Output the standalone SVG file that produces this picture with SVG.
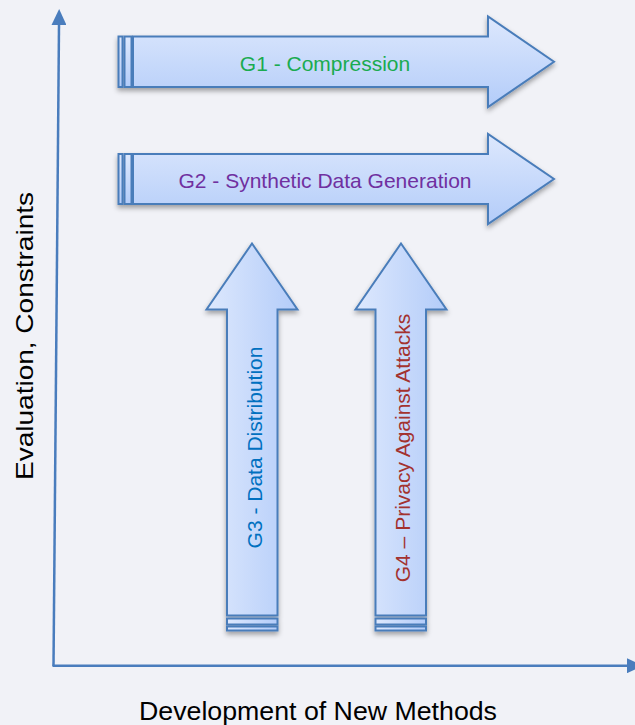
<svg xmlns="http://www.w3.org/2000/svg" width="635" height="725" viewBox="0 0 635 725">
  <defs>
    <linearGradient id="fillH" x1="0" y1="0" x2="0" y2="1">
      <stop offset="0" stop-color="#dde8fd"/>
      <stop offset="1" stop-color="#b3ccf9"/>
    </linearGradient>
    <linearGradient id="fillV" x1="0" y1="0" x2="1" y2="0">
      <stop offset="0" stop-color="#dde8fd"/>
      <stop offset="1" stop-color="#b3ccf9"/>
    </linearGradient>
    <filter id="shadow" x="-10%" y="-10%" width="120%" height="130%">
      <feDropShadow dx="0" dy="3" stdDeviation="2.5" flood-color="#000" flood-opacity="0.35"/>
    </filter>
    <marker id="axisHead" viewBox="0 0 16 15" markerWidth="16" markerHeight="15" refX="0" refY="7.5" orient="auto" markerUnits="userSpaceOnUse">
      <path d="M0,0 L16,7.5 L0,15 Z" fill="#4a7dbd"/>
    </marker>
  </defs>
  <style>
    .shape { stroke: #4a7dba; stroke-width: 2; stroke-linejoin: miter; }
    .h { fill: url(#fillH); }
    .v { fill: url(#fillV); }
    .label { font-family: "Liberation Sans", Arial, sans-serif; font-size: 21px; text-anchor: middle; }
    .axis { fill: none; stroke: #4a7dbd; stroke-width: 2.5; }
    .axisLabel { font-family: "Liberation Sans", Arial, sans-serif; fill: #000; text-anchor: middle; }
  </style>

  <rect width="635" height="725" fill="#f1f2f7"/>

  <!-- axes -->
  <g id="connectors">
    <path class="axis" d="M53.5,666 L59,25" marker-end="url(#axisHead)"/>
    <path class="axis" d="M52.5,665.7 H627" marker-end="url(#axisHead)"/>
  </g>

  <!-- striped block arrows -->
  <g id="g1" filter="url(#shadow)">
    <rect class="shape h" x="118.5" y="36.5" width="4" height="50.5"/>
    <rect class="shape h" x="124.5" y="36.5" width="7" height="50.5"/>
    <path class="shape h" d="M133,36.5 H488 V16.5 L554,61.7 L488,107 V87 H133 Z"/>
  </g>
  <g id="g1-text">
    <text class="label" x="325" y="71" fill="#1aab50">G1 - Compression</text>
  </g>

  <g id="g2" filter="url(#shadow)">
    <rect class="shape h" x="118.5" y="154" width="4" height="50"/>
    <rect class="shape h" x="124.5" y="154" width="7" height="50"/>
    <path class="shape h" d="M133,154 H488 V134 L554,179 L488,224 V204 H133 Z"/>
  </g>
  <g id="g2-text">
    <text class="label" x="325" y="188" fill="#7030a0">G2 - Synthetic Data Generation</text>
  </g>

  <g id="g3" filter="url(#shadow)">
    <path class="shape v" d="M252,243.5 L297.5,309.5 H277.5 V615.5 H227 V309.5 H206.5 Z"/>
    <rect class="shape v" x="227" y="618.5" width="50.5" height="6"/>
    <rect class="shape v" x="227" y="626.5" width="50.5" height="4"/>
  </g>
  <g id="g3-text">
    <text class="label" transform="translate(262,447.5) rotate(-90)" fill="#0070c0">G3 - Data Distribution</text>
  </g>

  <g id="g4" filter="url(#shadow)">
    <path class="shape v" d="M401,243.5 L446.5,309.5 H426 V615.5 H375.5 V309.5 H355.5 Z"/>
    <rect class="shape v" x="375.5" y="618.5" width="50.5" height="6"/>
    <rect class="shape v" x="375.5" y="626.5" width="50.5" height="4"/>
  </g>
  <g id="g4-text">
    <text class="label" transform="translate(410,448) rotate(-90)" fill="#a3322f">G4 – Privacy Against Attacks</text>
  </g>

  <!-- axis titles -->
  <g id="y-title">
    <text class="axisLabel" font-size="24" textLength="288" lengthAdjust="spacingAndGlyphs" transform="translate(33,336) rotate(-90)">Evaluation, Constraints</text>
  </g>
  <g id="x-title">
    <text class="axisLabel" font-size="26" textLength="358" lengthAdjust="spacingAndGlyphs" x="318" y="720">Development of New Methods</text>
  </g>
</svg>
